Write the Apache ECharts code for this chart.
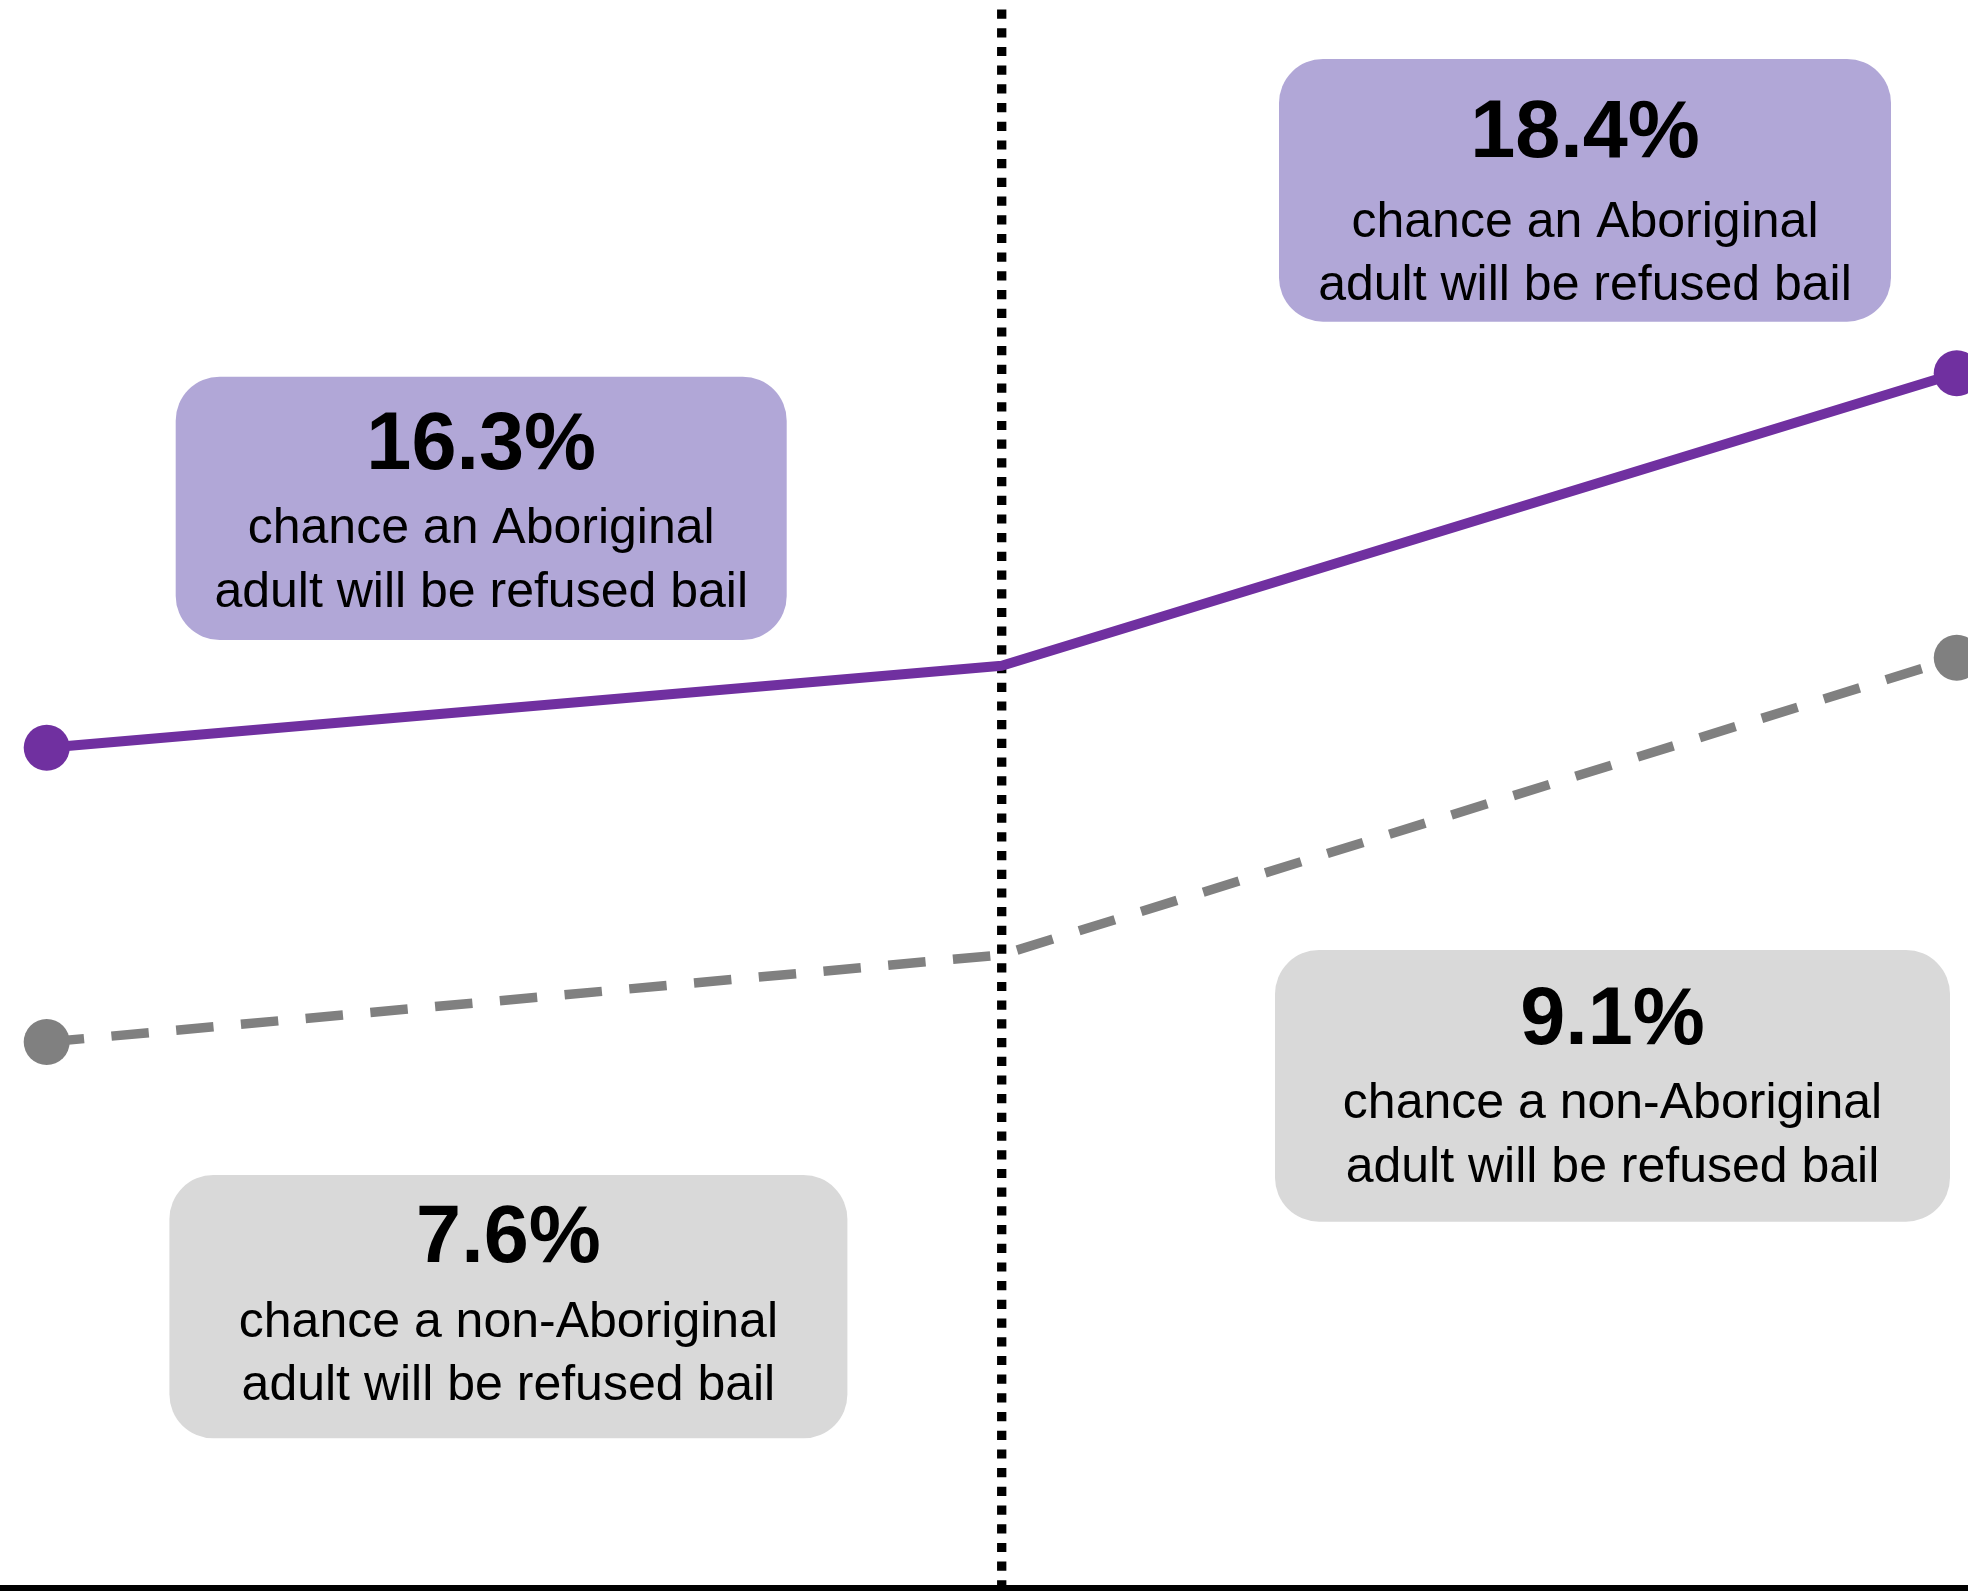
<!DOCTYPE html>
<html>
<head>
<meta charset="utf-8">
<script src="https://cdn.jsdelivr.net/npm/echarts@6/dist/echarts.min.js"></script>
<style>
  html, body { margin: 0; padding: 0; background: #ffffff; }
  #chart { width: 1968px; height: 1591px; }
</style>
</head>
<body>
<div id="chart"></div>
<script>
// ---- data ----
const periods = ['Before', 'Change', 'After'];
const changeIndex = 1;
const aboriginalRate = [16.3, 16.76, 18.4];
const nonAboriginalRate = [7.6, 7.94, 9.1];
const aboriginalText = ['chance an Aboriginal', 'adult will be refused bail'];
const nonAboriginalText = ['chance a non-Aboriginal', 'adult will be refused bail'];

// ---- scales (stylised: each group on its own hidden axis) ----
const xMin = -0.0489, xMax = 2.0118;
const yAbMin = 11.587, yAbMax = 20.4935;
const yNonMin = 5.469, yNonMax = 11.667;

const PURPLE = '#7030A0';
const GREY = '#808080';
const BOX_PURPLE = '#B1A7D7';
const BOX_GREY = '#D9D9D9';
const FONT = '"Liberation Sans", Arial, sans-serif';

function pct(v) { return v.toFixed(1) + '%'; }

function buildData(rates) {
  return periods.map((p, i) => ({
    name: p,
    value: [i, rates[i]],
    symbol: i === changeIndex ? 'none' : 'circle'
  }));
}

function box(x, y, w, h, fill, number, lines, baselines) {
  const cx = w / 2;
  const numSize = 81, txtSize = 50;
  const t = (text, base, size, bold) => ({
    type: 'text',
    style: {
      text: text,
      x: cx,
      y: base - 0.345 * size + 5,
      fill: '#000',
      font: (bold ? 'bold ' : '') + size + 'px ' + FONT,
      align: 'center',
      verticalAlign: 'middle',
      textAlign: 'center',
      textVerticalAlign: 'middle'
    }
  });
  return {
    type: 'group',
    x: x,
    y: y,
    z: 10,
    children: [
      { type: 'rect', shape: { x: 0, y: 0, width: w, height: h, r: 44 }, style: { fill: fill } },
      t(number, baselines[0] - y, numSize, true),
      t(lines[0], baselines[1] - y, txtSize, false),
      t(lines[1], baselines[2] - y, txtSize, false)
    ]
  };
}

const chart = echarts.init(document.getElementById('chart'), null, { renderer: 'canvas' });

chart.setOption({
  animation: false,
  backgroundColor: '#ffffff',
  grid: { left: 0, right: 0, top: 0, bottom: 3, containLabel: false },
  xAxis: {
    type: 'value',
    min: xMin,
    max: xMax,
    axisLine: { show: true, onZero: false, lineStyle: { color: '#000', width: 6 } },
    axisTick: { show: false },
    axisLabel: { show: false },
    splitLine: { show: false }
  },
  yAxis: [
    { type: 'value', min: yAbMin, max: yAbMax, show: false },
    { type: 'value', min: yNonMin, max: yNonMax, show: false }
  ],
  series: [
    {
      name: 'divider',
      type: 'line',
      yAxisIndex: 0,
      z: 1,
      silent: true,
      symbol: 'none',
      data: [[changeIndex, yAbMax], [changeIndex, yAbMin]],
      lineStyle: { color: '#000', width: 9.3, type: [9.2, 9.5], dashOffset: 9.2, cap: 'butt' }
    },
    {
      name: 'Non-Aboriginal',
      type: 'line',
      yAxisIndex: 1,
      z: 2,
      data: buildData(nonAboriginalRate),
      symbolSize: 46,
      showSymbol: true,
      lineStyle: { color: GREY, width: 9.5, type: [37.5, 27.5], cap: 'butt' },
      itemStyle: { color: GREY },
      emphasis: { disabled: true }
    },
    {
      name: 'Aboriginal',
      type: 'line',
      yAxisIndex: 0,
      z: 3,
      data: buildData(aboriginalRate),
      symbolSize: 46,
      showSymbol: true,
      lineStyle: { color: PURPLE, width: 10 },
      itemStyle: { color: PURPLE },
      emphasis: { disabled: true }
    }
  ],
  graphic: [
    box(175.7, 376.7, 611, 263.3, BOX_PURPLE, pct(aboriginalRate[0]), aboriginalText, [470, 541.7, 605]),
    box(1279, 59, 612, 262.7, BOX_PURPLE, pct(aboriginalRate[2]), aboriginalText, [157.3, 235, 298.3]),
    box(1275, 950, 675, 271.7, BOX_GREY, pct(nonAboriginalRate[2]), nonAboriginalText, [1045, 1116.7, 1180]),
    box(169.4, 1175, 678, 263.3, BOX_GREY, pct(nonAboriginalRate[0]), nonAboriginalText, [1262.7, 1335, 1398.3])
  ]
});
</script>
</body>
</html>
